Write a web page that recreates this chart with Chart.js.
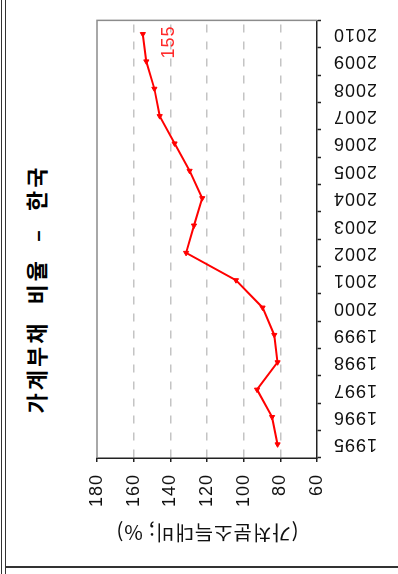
<!DOCTYPE html>
<html><head><meta charset="utf-8">
<script src="https://cdn.jsdelivr.net/npm/chart.js@4"></script>
<style>
html,body{margin:0;padding:0;background:#fff;}
body{width:398px;height:574px;position:relative;overflow:hidden;}
#frameL1{position:absolute;left:1px;top:0;width:1px;height:574px;background:#333;}
#frameL2{position:absolute;left:5px;top:0;width:1px;height:574px;background:#333;}
#frameB{position:absolute;left:5px;top:566px;width:393px;height:2px;background:#333;}
#wrap{position:absolute;left:0;top:0;width:574px;height:398px;transform-origin:0 0;transform:translate(0,574px) rotate(-90deg);}
#title{position:absolute;left:-2px;top:24px;width:574px;text-align:center;font-family:"Noto Sans CJK KR";font-weight:bold;font-size:22px;line-height:22px;letter-spacing:3px;word-spacing:8px;color:#000;white-space:nowrap;}
canvas{position:absolute;left:0;top:0;}
</style></head>
<body>
<div id="frameL1"></div><div id="frameL2"></div><div id="frameB"></div>
<div id="wrap"><div id="title">가계부채 비율 – 한국</div><canvas id="c" width="574" height="398"></canvas></div>
<script>
const years = ['1995','1996','1997','1998','1999','2000','2001','2002','2003','2004','2005','2006','2007','2008','2009','2010'];
const debtRatio = [81.5, 84.5, 92.7, 81.5, 83.3, 89.7, 104.2, 131.4, 127.1, 122.6, 129.5, 137.7, 145.8, 148.7, 153.1, 155];
const valueMin = 60;
const valueMax = 180;
const valueStep = 20;
const chartTitle = '가계부채 비율 – 한국';
const valueAxisTitle = '(가처분소득대비; %)';

Chart.defaults.font.family = '"Liberation Sans", Arial, sans-serif';

const spacing = {
  id: 'spacing',
  beforeDraw(c) { c.ctx.letterSpacing = '1px'; },
  afterDraw(c) { c.ctx.letterSpacing = '0px'; }
};
const frame = {
  id: 'frame',
  beforeDatasetsDraw(c) {
    const {ctx, chartArea: a} = c;
    ctx.save();
    ctx.strokeStyle = '#8c8c8c';
    ctx.lineWidth = 1.5;
    ctx.beginPath();
    ctx.moveTo(a.left, a.top);
    ctx.lineTo(a.right, a.top);
    ctx.lineTo(a.right, a.bottom);
    ctx.stroke();
    ctx.restore();
  }
};
const endLabel = {
  id: 'endLabel',
  afterDatasetsDraw(c) {
    const meta = c.getDatasetMeta(0);
    const i = debtRatio.length - 1;
    const p = meta.data[i];
    const ctx = c.ctx;
    ctx.save();
    ctx.fillStyle = '#ff2a2a';
    ctx.font = '18px "Liberation Sans"';
    ctx.textAlign = 'center';
    ctx.textBaseline = 'middle';
    ctx.fillText(String(debtRatio[i]), p.x - 8, p.y + 26);
    ctx.restore();
  }
};

new Chart(document.getElementById('c'), {
  type: 'line',
  data: {
    labels: years,
    datasets: [{
      data: debtRatio,
      borderColor: '#ff0000',
      backgroundColor: '#ff0000',
      borderWidth: 2,
      pointStyle: 'triangle',
      pointRotation: -90,
      pointRadius: 3,
      pointBorderWidth: 1,
      tension: 0,
      clip: false
    }]
  },
  options: {
    responsive: false,
    animation: false,
    devicePixelRatio: 1,
    layout: {padding: {top: 97, right: 14, bottom: 0, left: 0}},
    plugins: {legend: {display: false}, tooltip: {enabled: false}, title: {display: false}},
    scales: {
      x: {
        type: 'category',
        offset: true,
        grid: {offset: true, drawOnChartArea: false, tickLength: 4, tickColor: '#222', tickWidth: 1.5},
        border: {color: '#222', width: 1.5},
        ticks: {autoSkip: false, minRotation: 90, maxRotation: 90, padding: 12, color: '#111', font: {size: 18}},
        afterFit(s) { s.height = 81; }
      },
      y: {
        min: valueMin,
        max: valueMax,
        ticks: {stepSize: valueStep, padding: 12, color: '#111', font: {size: 18}},
        grid: {
          color: (c) => (c.tick && (c.tick.value === valueMin || c.tick.value === valueMax)) ? 'rgba(0,0,0,0)' : '#c4c4c4',
          lineWidth: 1.5, tickLength: 4, tickColor: '#222', tickWidth: 1.5
        },
        border: {color: '#222', width: 1.5, dash: [8, 9]},
        title: {display: true, text: valueAxisTitle, font: {family: '"Noto Sans CJK KR"', size: 20}, color: '#111', padding: {top: 29, bottom: 0}},
        afterFit(s) { s.width = 116; }
      }
    }
  },
  plugins: [spacing, frame, endLabel]
});
</script>
</body></html>
